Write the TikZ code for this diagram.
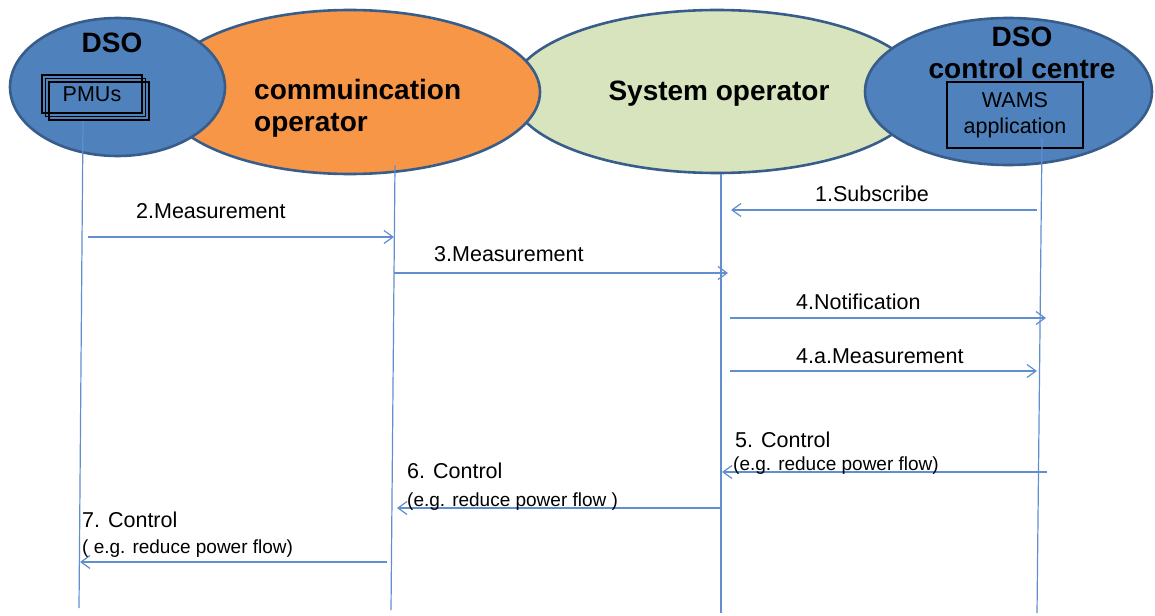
\documentclass[tikz,border=0pt]{standalone}
\usepackage{fontspec}
\setmainfont{Liberation Sans}
\usetikzlibrary{shapes.geometric,shadows,arrows.meta}
\definecolor{dsoblue}{RGB}{79,129,189}
\definecolor{rimblue}{RGB}{56,93,138}
\definecolor{comorange}{RGB}{247,150,70}
\definecolor{sysgreen}{RGB}{215,228,189}
\definecolor{lineblue}{RGB}{96,142,208}
\begin{document}
\begin{tikzpicture}[x=1pt, y=-1pt,
  party/.style = {ellipse, draw=rimblue, line width=2.6pt, inner sep=0pt},
  title/.style = {font=\fontsize{28}{32}\selectfont\bfseries, inner sep=0pt},
  box/.style = {rectangle, draw=black, line width=1.8pt, inner sep=0pt, align=center,
    font=\fontsize{21.5}{26}\selectfont},
  life/.style = {draw=lineblue, line width=1.2pt},
  msg/.style = {draw=lineblue, line width=1.2pt,
    -{Straight Barb[length=9pt,width=13pt,line width=1.2pt]}},
  lbl/.style = {font=\fontsize{21.5}{24}\selectfont, inner sep=0pt, anchor=base west},
  note/.style = {font=\fontsize{19}{22}\selectfont, inner sep=0pt, anchor=base west}]
  \useasboundingbox (0,0) rectangle (1155,615);

  % the four parties
  \node[party, fill=sysgreen, minimum width=412pt, minimum height=163pt] (sysop) at (717,91.5) {};
  \node[party, fill=comorange, minimum width=380pt, minimum height=164pt] (comop) at (350,92) {};
  \node[party, fill=dsoblue, minimum width=215pt, minimum height=138pt] (dso) at (117.5,87) {};
  \node[party, fill=dsoblue, minimum width=287pt, minimum height=147pt] (centre) at (1008.5,91.5) {};

  \node[title, anchor=base] (dsoname) at (112,53) {DSO};
  \node[title, align=left, anchor=west] (comname) at (254,108) {commuincation\\operator};
  \node[title, anchor=base] (sysname) at (719,100) {System operator};
  \node[title, align=center, anchor=center] (centrename) at (1022,53) {DSO\\control centre};

  \node[box, minimum width=100pt, minimum height=38pt,
    double copy shadow={shadow xshift=3.5pt, shadow yshift=-3.5pt, fill=none, draw=black, line width=1.8pt}]
    (pmus) at (92,94) {PMUs};
  \node[box, minimum width=136pt, minimum height=66pt] (wams) at (1015,115) {WAMS\\application};

  % lifelines
  \coordinate (dsotop) at (83,121);   \coordinate (dsobot) at (79,608);
  \coordinate (comtop) at (395,165);  \coordinate (combot) at (391,610);
  \coordinate (systop) at (721,174);  \coordinate (sysbot) at (721,613);
  \coordinate (wamstop) at (1042,138); \coordinate (wamsbot) at (1037,613);
  \draw[life] (dsotop) -- (dsobot);
  \draw[life] (comtop) -- (combot);
  \draw[life] (systop) -- (sysbot);
  \draw[life] (wamstop) -- (wamsbot);

  % messages
  \coordinate (m1a) at (1037,210); \coordinate (m1b) at (731,210);
  \coordinate (m2a) at (88,237);   \coordinate (m2b) at (394,237);
  \coordinate (m3a) at (394,273);  \coordinate (m3b) at (728,273);
  \coordinate (m4a) at (730,318);  \coordinate (m4b) at (1046,318);
  \coordinate (m5a) at (730,371);  \coordinate (m5b) at (1037,371);
  \coordinate (m6a) at (1047,472); \coordinate (m6b) at (722,472);
  \coordinate (m7a) at (721,508);  \coordinate (m7b) at (397,508);
  \coordinate (m8a) at (387,562);  \coordinate (m8b) at (80,562);
  \draw[msg] (m1a) -- (m1b);
  \draw[msg] (m2a) -- (m2b);
  \draw[msg] (m3a) -- (m3b);
  \draw[msg] (m4a) -- (m4b);
  \draw[msg] (m5a) -- (m5b);
  \draw[msg] (m6a) -- (m6b);
  \draw[msg] (m7a) -- (m7b);
  \draw[msg] (m8a) -- (m8b);

  \node[lbl] (subscribe) at (815,201) {1.Subscribe};
  \node[lbl] (meas2) at (136,218) {2.Measurement};
  \node[lbl] (meas3) at (434,261) {3.Measurement};
  \node[lbl] (notify) at (796,309) {4.Notification};
  \node[lbl] (meas4a) at (796,363) {4.a.Measurement};
  \node[lbl] (ctrl5) at (735,447) {5. Control};
  \node[note] (ctrl5note) at (733,470) {(e.g. reduce power flow)};
  \node[lbl] (ctrl6) at (407,478) {6. Control};
  \node[note] (ctrl6note) at (407,506) {(e.g. reduce power flow )};
  \node[lbl] (ctrl7) at (82,527) {7. Control};
  \node[note] (ctrl7note) at (82,553) {( e.g. reduce power flow)};
\end{tikzpicture}
\end{document}
